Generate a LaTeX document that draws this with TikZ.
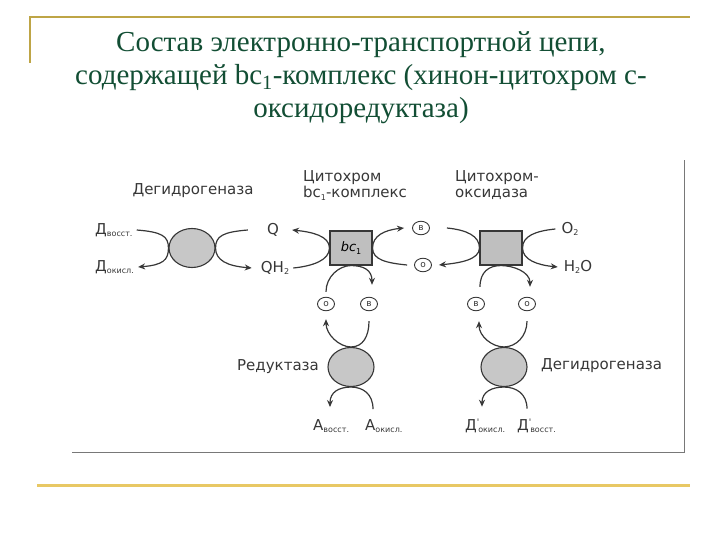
\documentclass[tikz,border=0pt]{standalone}
\usepackage{fontspec}
\setmainfont{Liberation Serif}
\newfontfamily\dsans{DejaVu Sans}
\usetikzlibrary{shapes.geometric,arrows.meta}
\definecolor{titlegreen}{RGB}{18,78,52}
\definecolor{goldtop}{RGB}{190,165,70}
\definecolor{goldbot}{RGB}{232,200,100}
\definecolor{ink}{RGB}{55,55,55}
\definecolor{framegray}{RGB}{120,120,120}
\newcommand{\lsub}[1]{\raisebox{-2.5pt}{\fontsize{8}{8}\selectfont #1}}
\newcommand{\lpr}{\rlap{\raisebox{5pt}{\fontsize{9}{9}\selectfont '}}}
\tikzset{
 enzyme/.style={ellipse, draw=ink, line width=1.1pt, fill=black!22, minimum width=46pt, minimum height=39pt, inner sep=0pt},
 cbox/.style={rectangle, draw=ink, line width=1.1pt, fill=black!25, minimum width=42pt, minimum height=34pt, inner sep=0pt},
 cyt/.style={ellipse, draw=ink, line width=0.9pt, minimum width=17pt, minimum height=13.5pt, inner sep=0pt, font=\dsans\fontsize{9}{9}\selectfont, text=ink},
 lab/.style={font=\dsans\fontsize{15}{16.5}\selectfont, text=ink, inner sep=1pt},
 conn/.style={draw=ink, line width=1.2pt},
 arr/.style={conn, -{Stealth[length=7pt,width=6pt]}},
}
\begin{document}
\begin{tikzpicture}[x=1pt,y=-1pt]
\useasboundingbox (0,0) rectangle (720,540);
% slide decoration
\draw[goldtop, line width=2pt] (30,63) -- (30,17) -- (690,17);
\draw[goldbot, line width=3pt] (37,485) -- (690,485);
\node[font=\fontsize{29}{33}\selectfont, text=titlegreen, align=center] (title) at (361,78)
 {Состав электронно-транспортной цепи,\\содержащей bc\textsubscript{1}-комплекс (хинон-цитохром с-\\оксидоредуктаза)};
% scan frame
\draw[framegray, line width=0.9pt] (72,452) -- (684,452) -- (684,160);
% enzymes
\node[enzyme] (e1) at (192,248) {};
\node[cbox] (b1) at (351,248) {\dsans\fontsize{13}{13}\selectfont\itshape bc\lsub{\upshape 1}};
\node[cbox] (b2) at (501,248) {};
\node[enzyme] (e2) at (351,367) {};
\node[enzyme] (e3) at (504,367) {};
% labels
\node[lab] (dh1) at (193,191) {Дегидрогеназа};
\node[lab, anchor=north west, align=left] (bc1lab) at (302,169) {Цитохром\\bc\lsub{1}-комплекс};
\node[lab, anchor=north west, align=left] (oxlab) at (454,169) {Цитохром-\\оксидаза};
\node[lab, anchor=west] (red) at (236,367) {Редуктаза};
\node[lab, anchor=west] (dh2) at (540,366) {Дегидрогеназа};
\node[lab, anchor=west] (dv1) at (94,230) {Д\lsub{восст.}};
\node[lab, anchor=west] (dk1) at (94,267) {Д\lsub{окисл.}};
\node[lab] (q) at (273,230) {Q};
\node[lab] (qh2) at (275,268) {QH\lsub{2}};
\node[lab] (o2) at (570,229) {O\lsub{2}};
\node[lab] (h2o) at (578,267) {H\lsub{2}O};
\node[lab, anchor=west] (av) at (312,426) {А\lsub{восст.}};
\node[lab, anchor=west] (ao) at (364,426) {А\lsub{окисл.}};
\node[lab, anchor=west] (dk2) at (464,426) {Д\lpr\lsub{\,окисл.}};
\node[lab, anchor=west] (dv2) at (516,426) {Д\lpr\lsub{\,восст.}};
% cytochrome c
\node[cyt] (c1v) at (421,228) {в};
\node[cyt] (c1o) at (423,265) {о};
\node[cyt] (c2o) at (326,304) {о};
\node[cyt] (c2v) at (369,304) {в};
\node[cyt] (c3v) at (476,304) {в};
\node[cyt] (c3o) at (527,304) {о};
% connectors: dehydrogenase 1
\draw[arr] ([xshift=3pt]dv1.east) .. controls +(25,2) and +(0,-12) .. (e1.west)
  .. controls +(0,12) and +(25,-2) .. ([xshift=3pt]dk1.east);
\draw[arr] ([xshift=-18pt]q.west) .. controls +(-25,2) and +(0,-12) .. (e1.east)
  .. controls +(0,12) and +(-25,-2) .. ([xshift=-8pt]qh2.west);
% bc1
\draw[arr] ([xshift=3pt]qh2.east) .. controls +(20,-2) and +(0,12) .. (b1.west)
  .. controls +(0,-12) and +(20,2) .. ([xshift=12pt]q.east);
\draw[arr] ([xshift=-7pt]c1o.west) .. controls +(-20,-2) and +(0,12) .. (b1.east)
  .. controls +(0,-12) and +(-20,2) .. ([xshift=-8pt]c1v.west);
\draw[arr] ([yshift=5pt]c2o.north) .. controls +(0,-15) and +(-12,0) .. (b1.south)
  .. controls +(12,0) and +(0,-15) .. ([xshift=3pt,yshift=12pt]c2v.north);
% reductase
\draw[arr] ([yshift=-10pt]c2v.south) .. controls +(0,15) and +(12,0) .. (e2.north)
  .. controls +(-12,0) and +(0,15) .. ([yshift=-8pt]c2o.south);
\draw[arr] ([xshift=9pt,yshift=9pt]ao.north west) .. controls +(0,-15) and +(12,0) .. (e2.south)
  .. controls +(-12,0) and +(0,-15) .. ([xshift=18pt,yshift=11pt]av.north west);
% cytochrome oxidase
\draw[arr] ([xshift=17pt]c1v.east) .. controls +(20,2) and +(0,-12) .. (b2.west)
  .. controls +(0,12) and +(20,-2) .. ([xshift=7pt]c1o.east);
\draw[arr] ([xshift=-5pt]o2.west) .. controls +(-20,2) and +(0,-12) .. (b2.east)
  .. controls +(0,12) and +(-20,-2) .. ([xshift=-5pt]h2o.west);
\draw[arr] ([xshift=4pt,yshift=10pt]c3v.north) .. controls +(0,-15) and +(-12,0) .. (b2.south)
  .. controls +(12,0) and +(0,-15) .. ([xshift=3pt,yshift=10pt]c3o.north);
% dehydrogenase 2
\draw[arr] ([yshift=-10pt]c3o.south) .. controls +(0,15) and +(12,0) .. (e3.north)
  .. controls +(-12,0) and +(0,15) .. ([xshift=3pt,yshift=-10pt]c3v.south);
\draw[arr] ([xshift=11pt,yshift=9pt]dv2.north west) .. controls +(0,-15) and +(12,0) .. (e3.south)
  .. controls +(-12,0) and +(0,-15) .. ([xshift=18pt,yshift=11pt]dk2.north west);
\end{tikzpicture}
\end{document}
